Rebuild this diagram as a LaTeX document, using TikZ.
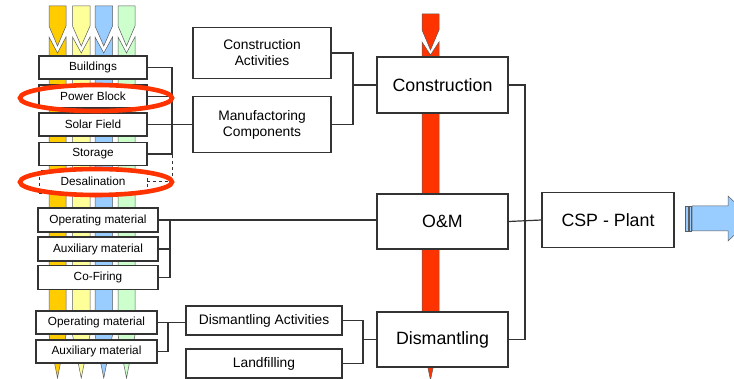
\documentclass[tikz,border=0pt]{standalone}
\usepackage{fontspec}
\setmainfont{Liberation Sans}
\usetikzlibrary{calc}
\definecolor{barO}{HTML}{FFCC00}
\definecolor{barY}{HTML}{FFFF99}
\definecolor{barB}{HTML}{99CCFF}
\definecolor{barG}{HTML}{CCFFCC}
\definecolor{barR}{HTML}{FF3300}
\definecolor{edge}{HTML}{333333}
\definecolor{ring}{HTML}{FF3300}
\definecolor{arrowblue}{HTML}{99CCFF}
\tikzset{
  box/.style={draw=edge, line width=1.2pt, fill=white, inner sep=0pt, align=center},
  smallbox/.style={box, font=\fontsize{11.8}{13}\selectfont},
  midbox/.style={box, font=\fontsize{13.8}{16}\selectfont},
  bigbox/.style={box, font=\fontsize{17.8}{20}\selectfont},
  conn/.style={draw=edge, line width=1.2pt},
  barline/.style={draw=edge!80, line width=0.5pt},
  ringline/.style={draw=ring, line width=4.6pt},
}
\newcommand{\colbar}[3]{%
  \pgfmathsetmacro{\xm}{(#1+#2)/2}
  \filldraw[barline, fill=#3] (#1,6) -- (#2,6) -- (#2,26) -- (\xm,46) -- (#1,26) -- cycle;
  \filldraw[barline, fill=#3] (#1,37) -- (\xm,53) -- (#2,37) -- (#2,335) -- (\xm,378) -- (#1,335) -- cycle;
}
\begin{document}
\begin{tikzpicture}[x=1pt, y=-1pt]
\useasboundingbox (0,0) rectangle (734,379);
\clip (0,0) rectangle (734,379);

% coloured bars
\colbar{49}{66}{barO}
\colbar{72.5}{90}{barY}
\colbar{95}{112.5}{barB}
\colbar{118}{135}{barG}
% red bar
\filldraw[barline, fill=barR] (422,14) -- (439,14) -- (439,30) -- (430.5,50) -- (422,30) -- cycle;
\filldraw[barline, fill=barR] (422,42) -- (430.5,55) -- (439,42) -- (439,340) -- (430.5,380) -- (422,340) -- cycle;

% left column boxes
\node[smallbox, minimum width=108pt, minimum height=23pt] (bld) at (93,67.5) {Buildings};
\node[smallbox, minimum width=108pt, minimum height=23pt] (pb) at (93,96.5) {Power Block};
\node[smallbox, minimum width=108pt, minimum height=23pt] (sf) at (93,124.5) {Solar Field};
\node[smallbox, minimum width=108pt, minimum height=23pt] (sto) at (93,154) {Storage};
\node[smallbox, dashed, line width=0.8pt, minimum width=108pt, minimum height=23pt] (des) at (93,181.5) {Desalination};
\node[smallbox, minimum width=120pt, minimum height=24pt] (op1) at (98,220) {Operating material};
\node[smallbox, minimum width=120pt, minimum height=24pt] (aux1) at (98,249) {Auxiliary material};
\node[smallbox, minimum width=120pt, minimum height=24pt] (cof) at (98,277.5) {Co-Firing};
\node[smallbox, minimum width=121pt, minimum height=23pt] (op2) at (96.5,322.5) {Operating material};
\node[smallbox, minimum width=121pt, minimum height=23pt] (aux2) at (96.5,351.5) {Auxiliary material};

% middle boxes
\node[midbox, minimum width=138pt, minimum height=51pt] (ca) at (262,53) {Construction\\Activities};
\node[midbox, minimum width=138pt, minimum height=56pt] (mc) at (262,124.5) {Manufactoring\\Components};
\node[midbox, minimum width=156pt, minimum height=29pt] (da) at (264,320.5) {Dismantling Activities};
\node[midbox, minimum width=156pt, minimum height=29pt] (lf) at (264,363.5) {Landfilling};

% phase boxes
\node[bigbox, minimum width=131pt, minimum height=56pt] (con) at (442.5,85) {Construction};
\node[bigbox, minimum width=131pt, minimum height=55pt] (om) at (442.5,221.5) {O\&M};
\node[bigbox, minimum width=131pt, minimum height=55pt] (dis) at (442.5,339.5) {Dismantling};
\node[bigbox, minimum width=132pt, minimum height=55pt] (csp) at (608,220) {CSP - Plant};

% junction coordinates
\coordinate (busA) at (172,124.5);
\coordinate (busB) at (170,220);
\coordinate (busJ) at (353,85);
\coordinate (busC) at (525,220);
\coordinate (busD) at (363,339.5);
\coordinate (busE) at (168,322.5);
\coordinate (busS) at (172,154);

% connectors
\draw[conn] (bld.east) -| (busA);
\draw[conn] (pb.east) -| (busA);
\draw[conn] (sto.east) -| (busA);
\draw[conn, dashed, line width=0.9pt] (des.east) -| (busS);
\draw[conn] (sf.east) -- (mc.west);
\draw[conn] (ca.east) -| (busJ);
\draw[conn] (mc.east) -| (busJ);
\draw[conn] (busJ) -- (con.west);
\draw[conn] (op1.east) -- (op1.east -| om.west);
\draw[conn] (aux1.east) -| (busB);
\draw[conn] (cof.east) -| (busB);
\draw[conn] (con.east) -| (busC);
\draw[conn] (dis.east) -| (busC);
\draw[conn] (om.east) -- (csp.west);
\draw[conn] (da.east) -| (busD);
\draw[conn] (lf.east) -| (busD);
\draw[conn] (busD) -- (dis.west);
\draw[conn] (op2.east) -- (op2.east -| da.west);
\draw[conn] (aux2.east) -| (busE);

% red rings
\draw[ringline] (96,98) ellipse [x radius=76, y radius=13];
\draw[ringline] (96,182) ellipse [x radius=76, y radius=13];

% blue arrow
\filldraw[barline, fill=arrowblue] (685,206) rectangle (688,231);
\filldraw[barline, fill=arrowblue] (689,206) rectangle (691,231);
\filldraw[barline, fill=arrowblue] (692,206) -- (728,206) -- (728,196) -- (752,218.5) -- (728,241) -- (728,231) -- (692,231) -- cycle;
\end{tikzpicture}
\end{document}
